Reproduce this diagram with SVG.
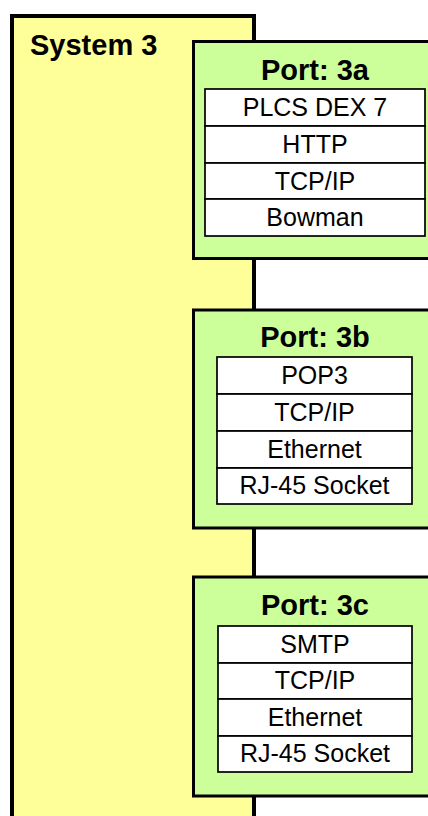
<svg xmlns="http://www.w3.org/2000/svg" width="428" height="816" viewBox="0 0 428 816">
<style>
.sys{fill:#FFFF99;stroke:#000;stroke-width:4}
.port{fill:#CCFF99;stroke:#000;stroke-width:3}
.row{fill:#fff;stroke:#000;stroke-width:1.7}
.t{font-family:"Liberation Sans",Arial,sans-serif;font-size:25px;fill:#000;text-anchor:middle}
.h{font-family:"Liberation Sans",Arial,sans-serif;font-size:29px;font-weight:bold;fill:#000}
</style>
<rect width="428" height="816" fill="#fff"/>
<g id="system3">
<rect class="sys" x="12" y="16" width="242" height="820"/>
<text class="h" x="30" y="55">System 3</text>
</g>
<g id="port3a">
<rect class="port" x="193.5" y="41.5" width="260" height="217"/>
<text class="h" x="315" y="80" text-anchor="middle">Port: 3a</text>
<rect class="row" x="205" y="89" width="220" height="37"/>
<rect class="row" x="205" y="126" width="220" height="37"/>
<rect class="row" x="205" y="163" width="220" height="36"/>
<rect class="row" x="205" y="199" width="220" height="37"/>
<text class="t" x="315" y="116">PLCS DEX 7</text>
<text class="t" x="315" y="153">HTTP</text>
<text class="t" x="315" y="190">TCP/IP</text>
<text class="t" x="315" y="226">Bowman</text>
</g>
<g id="port3b">
<rect class="port" x="193.5" y="310" width="260" height="218"/>
<text class="h" x="315" y="347" text-anchor="middle">Port: 3b</text>
<rect class="row" x="217" y="357" width="195" height="37"/>
<rect class="row" x="217" y="394" width="195" height="37"/>
<rect class="row" x="217" y="431" width="195" height="37"/>
<rect class="row" x="217" y="468" width="195" height="36"/>
<text class="t" x="314.5" y="384">POP3</text>
<text class="t" x="314.5" y="421">TCP/IP</text>
<text class="t" x="314.5" y="458">Ethernet</text>
<text class="t" x="314.5" y="494">RJ-45 Socket</text>
</g>
<g id="port3c">
<rect class="port" x="193.5" y="577" width="260" height="219"/>
<text class="h" x="315" y="615" text-anchor="middle">Port: 3c</text>
<rect class="row" x="218" y="626" width="194" height="37"/>
<rect class="row" x="218" y="663" width="194" height="36"/>
<rect class="row" x="218" y="699" width="194" height="37"/>
<rect class="row" x="218" y="736" width="194" height="36"/>
<text class="t" x="315" y="653">SMTP</text>
<text class="t" x="315" y="689">TCP/IP</text>
<text class="t" x="315" y="726">Ethernet</text>
<text class="t" x="315" y="762">RJ-45 Socket</text>
</g>
<g id="connectors"></g>
</svg>
